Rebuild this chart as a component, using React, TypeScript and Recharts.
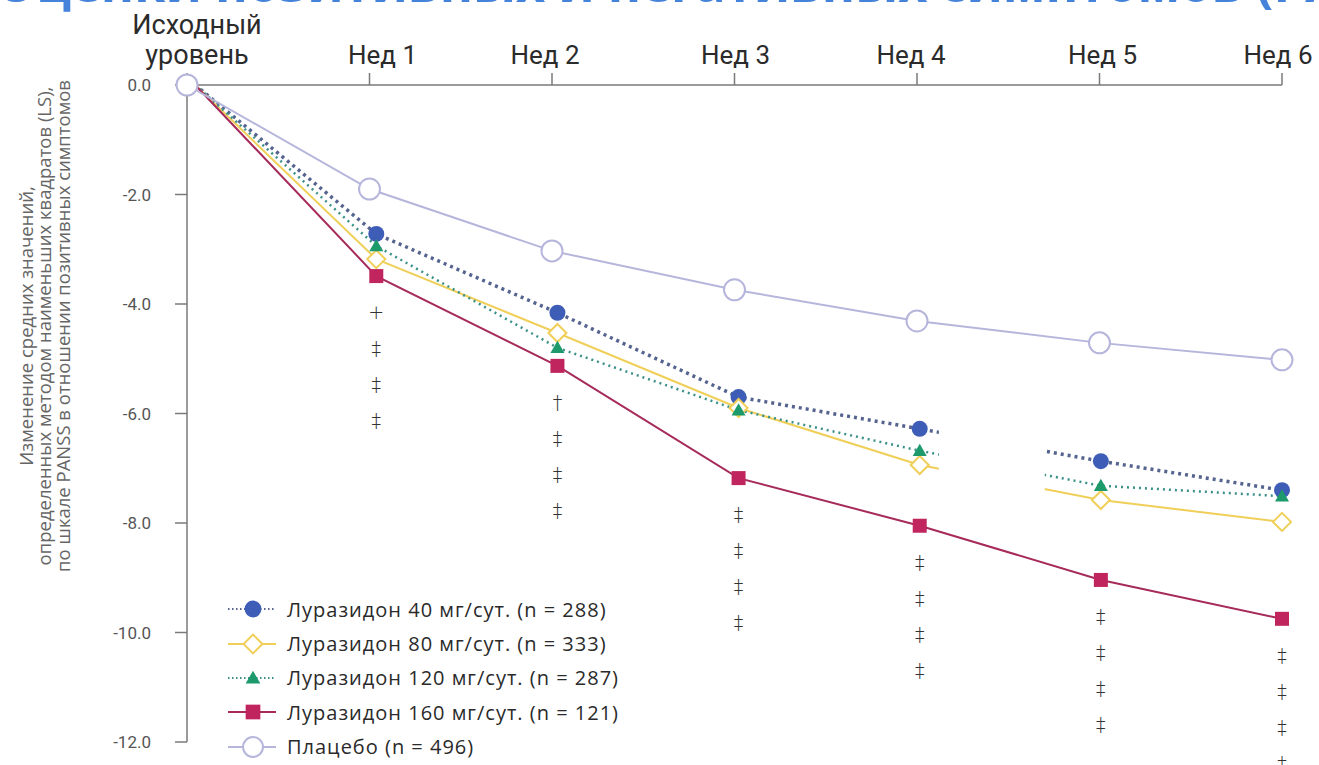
import React from "react";
import { LineChart, Line, XAxis, YAxis, ReferenceArea, LabelList } from "recharts";

// ---------- data ----------
const WEEKS = [0, 1, 2, 3, 4, 5, 6];
const WEEK_LABELS = ["Исходный уровень", "Нед 1", "Нед 2", "Нед 3", "Нед 4", "Нед 5", "Нед 6"];
const Y_TICKS = [0, -2, -4, -6, -8, -10, -12];
const LUR40 = [0, -2.72, -4.16, -5.7, -6.28, -6.87, -7.4];
const LUR80 = [0, -3.18, -4.53, -5.9, -6.94, -7.58, -7.98];
const LUR120 = [0, -2.94, -4.8, -5.94, -6.68, -7.32, -7.51];
const LUR160 = [0, -3.49, -5.13, -7.18, -8.05, -9.04, -9.75];
const PLACEBO = [0, -1.9, -3.03, -3.74, -4.31, -4.71, -5.02];
const SIG160 = ["", "+ ‡ ‡ ‡", "† ‡ ‡ ‡", "‡ ‡ ‡ ‡", "‡ ‡ ‡ ‡", "‡ ‡ ‡ ‡", "‡ ‡ ‡ ‡"];
const LEGEND_LABELS = [
  "Луразидон 40 мг/сут. (n = 288)",
  "Луразидон 80 мг/сут. (n = 333)",
  "Луразидон 120 мг/сут. (n = 287)",
  "Луразидон 160 мг/сут. (n = 121)",
  "Плацебо (n = 496)",
];
const TITLE = "Оценки позитивных и негативных симптомов (PANSS)";
const Y_LABEL_LINES = [
  "Изменение средних значений,",
  "определенных методом наименьших квадратов (LS),",
  "по шкале PANSS в отношении позитивных симптомов",
];

const data = WEEKS.map((w, i) => ({
  week: w,
  l40: LUR40[i],
  l80: LUR80[i],
  l120: LUR120[i],
  l160: LUR160[i],
  pl: PLACEBO[i],
  sig: SIG160[i],
}));

// ---------- styles ----------
const C40 = "#3d5db6";
const C40_LINE = "#55638f";
const C80 = "#f0cf58";
const C120 = "#1c9a6c";
const C120_LINE = "#3a9089";
const C160 = "#c0255e";
const C160_LINE = "#a62a5a";
const CPL = "#b6b6dc";
const AXIS = "#7a7a7a";

type Kind = "circle" | "diamond" | "triangle" | "square" | "open";

const drawShape = (kind: Kind, cx: number, cy: number, s: number, key?: string) => {
  switch (kind) {
    case "circle":
      return <circle key={key} cx={cx} cy={cy} r={8 * s} fill={C40} />;
    case "diamond": {
      const h = 9 * s;
      return (
        <polygon
          key={key}
          points={`${cx},${cy - h} ${cx + h},${cy} ${cx},${cy + h} ${cx - h},${cy}`}
          fill="#fff"
          stroke={C80}
          strokeWidth={2}
        />
      );
    }
    case "triangle": {
      const h = 7 * s;
      return (
        <polygon
          key={key}
          points={`${cx},${cy - h} ${cx + h},${cy + h * 0.75} ${cx - h},${cy + h * 0.75}`}
          fill={C120}
        />
      );
    }
    case "square": {
      const h = 7 * s;
      return <rect key={key} x={cx - h} y={cy - h} width={2 * h} height={2 * h} fill={C160} />;
    }
    default:
      return <circle key={key} cx={cx} cy={cy} r={10.5 * s} fill="#fff" stroke={CPL} strokeWidth={2} />;
  }
};

const makeDot = (kind: Kind, skipFirst: boolean) => (p: any) => {
  const k = `${kind}-${p.index}`;
  if (p.cx == null || p.cy == null || (skipFirst && p.index === 0)) return <g key={k} />;
  return drawShape(kind, p.cx, p.cy, 1, k);
};

const TICK_LABEL_DX = [10, 13, -7, 1, -6, 3, -4];

const WeekTick = (props: any) => {
  const { x, y, payload } = props;
  const label = WEEK_LABELS[payload.value] ?? "";
  const parts = payload.value === 0 ? label.split(" ") : [label];
  const dx = TICK_LABEL_DX[payload.value] ?? 0;
  return (
    <g>
      {parts.map((t: string, i: number) => (
        <text
          key={i}
          x={x + dx}
          y={y - (parts.length - 1 - i) * 30}
          textAnchor="middle"
          fill="#2b2b2b"
          fontWeight={400}
          fontSize={payload.value === 0 ? 27 : 26}
          fontFamily="Roboto, 'Noto Sans', sans-serif"
        >
          {t}
        </text>
      ))}
    </g>
  );
};

const SigLabel = (props: any) => {
  const { x, y, value } = props;
  if (!value) return null;
  const syms = String(value).split(" ");
  return (
    <g>
      {syms.map((s, i) => (
        <text
          key={i}
          x={x}
          y={y + 36 + i * 36}
          textAnchor="middle"
          dominantBaseline="central"
          fill="#333"
          fontSize={19}
          fontFamily="'DejaVu Sans', sans-serif"
          fontWeight={300}
        >
          {s}
        </text>
      ))}
    </g>
  );
};

const LEGEND_ITEMS: { kind: Kind; line: string; dash?: string; width: number }[] = [
  { kind: "circle", line: C40_LINE, dash: "1.5 2.5", width: 2 },
  { kind: "diamond", line: C80, width: 2 },
  { kind: "triangle", line: C120_LINE, dash: "1.5 2.5", width: 2 },
  { kind: "square", line: C160_LINE, width: 2 },
  { kind: "open", line: CPL, width: 2 },
];

const Legend = () => (
  <div style={{ position: "absolute", left: 226, top: 592 }}>
    {LEGEND_LABELS.map((label, i) => {
      const it = LEGEND_ITEMS[i];
      return (
        <div key={i} style={{ display: "flex", alignItems: "center", height: 34.4 }}>
          <svg width={52} height={26}>
            <line x1={2} y1={13} x2={50} y2={13} stroke={it.line} strokeWidth={it.width} strokeDasharray={it.dash} />
            {drawShape(it.kind, 27, 13, it.kind === "open" ? 0.95 : 1.05)}
          </svg>
          <span
            style={{
              marginLeft: 9,
              fontFamily: "'Open Sans', sans-serif",
              fontSize: 20,
              letterSpacing: 1,
              color: "#2a2a2a",
              whiteSpace: "nowrap",
            }}
          >
            {label}
          </span>
        </div>
      );
    })}
  </div>
);

export default function App() {
  return (
    <div style={{ position: "absolute", left: 0, top: 0, width: 1319, height: 765, overflow: "hidden", background: "#fff" }}>
      <svg width={1319} height={765} style={{ position: "absolute", left: 0, top: 0 }}>
        <text x={-4} y={2} fontSize={50.5} fontWeight={700} fill="#4583da" fontFamily="'Open Sans', sans-serif">
          {TITLE}
        </text>
        {Y_LABEL_LINES.map((t, i) => (
          <text
            key={i}
            transform={`translate(${25 + i * 18.5}, 326) rotate(-90)`}
            textAnchor="middle"
            dominantBaseline="central"
            fontSize={18.5}
            fill="#666"
            fontFamily="'Open Sans', sans-serif"
          >
            {t}
          </text>
        ))}
      </svg>
      <div style={{ position: "absolute", left: 0, top: 0 }}>
        <LineChart width={1319} height={765} data={data} margin={{ top: 25, right: 37, bottom: 23, left: 127 }}>
          <XAxis
            xAxisId="w"
            dataKey="week"
            type="number"
            orientation="top"
            domain={[0, 6]}
            ticks={WEEKS}
            height={60}
            tickSize={12}
            tickMargin={9}
            tick={<WeekTick />}
            axisLine={{ stroke: AXIS, strokeWidth: 1.5 }}
            tickLine={{ stroke: AXIS, strokeWidth: 1.5 }}
            interval={0}
          />
          <XAxis xAxisId="d" dataKey="week" type="number" domain={[-0.045, 5.955]} hide />
          <YAxis
            type="number"
            domain={[-12, 0]}
            ticks={Y_TICKS}
            width={60}
            tickSize={12}
            tickMargin={24}
            interval={0}
            tickFormatter={(v: number) => v.toFixed(1)}
            tick={{ fill: "#555", fontSize: 17, fontFamily: "'Liberation Sans Narrow', Roboto, sans-serif" }}
            axisLine={{ stroke: AXIS, strokeWidth: 1.5 }}
            tickLine={{ stroke: AXIS, strokeWidth: 1.5 }}
          />
          <Line
            xAxisId="d"
            dataKey="l40"
            stroke={C40_LINE}
            strokeWidth={3.5}
            strokeDasharray="3 4"
            dot={makeDot("circle", true)}
            activeDot={false}
            isAnimationActive={false}
          />
          <Line
            xAxisId="d"
            dataKey="l80"
            stroke={C80}
            strokeWidth={2}
            dot={makeDot("diamond", true)}
            activeDot={false}
            isAnimationActive={false}
          />
          <Line
            xAxisId="d"
            dataKey="l120"
            stroke={C120_LINE}
            strokeWidth={2.5}
            strokeDasharray="2 4"
            dot={makeDot("triangle", true)}
            activeDot={false}
            isAnimationActive={false}
          />
          <ReferenceArea
            xAxisId="w"
            x1={4.12}
            x2={4.7}
            y1={-5.9}
            y2={-7.65}
            fill="#ffffff"
            fillOpacity={1}
            stroke="none"
            ifOverflow="visible"
            {...({ zIndex: 450 } as any)}
          />
          <Line
            xAxisId="d"
            dataKey="l160"
            stroke={C160_LINE}
            strokeWidth={2}
            dot={makeDot("square", true)}
            activeDot={false}
            isAnimationActive={false}
          >
            <LabelList dataKey="sig" content={<SigLabel />} />
          </Line>
          <Line
            xAxisId="w"
            dataKey="pl"
            stroke={CPL}
            strokeWidth={2}
            dot={makeDot("open", false)}
            activeDot={false}
            isAnimationActive={false}
          />
        </LineChart>
      </div>
      <Legend />
    </div>
  );
}
